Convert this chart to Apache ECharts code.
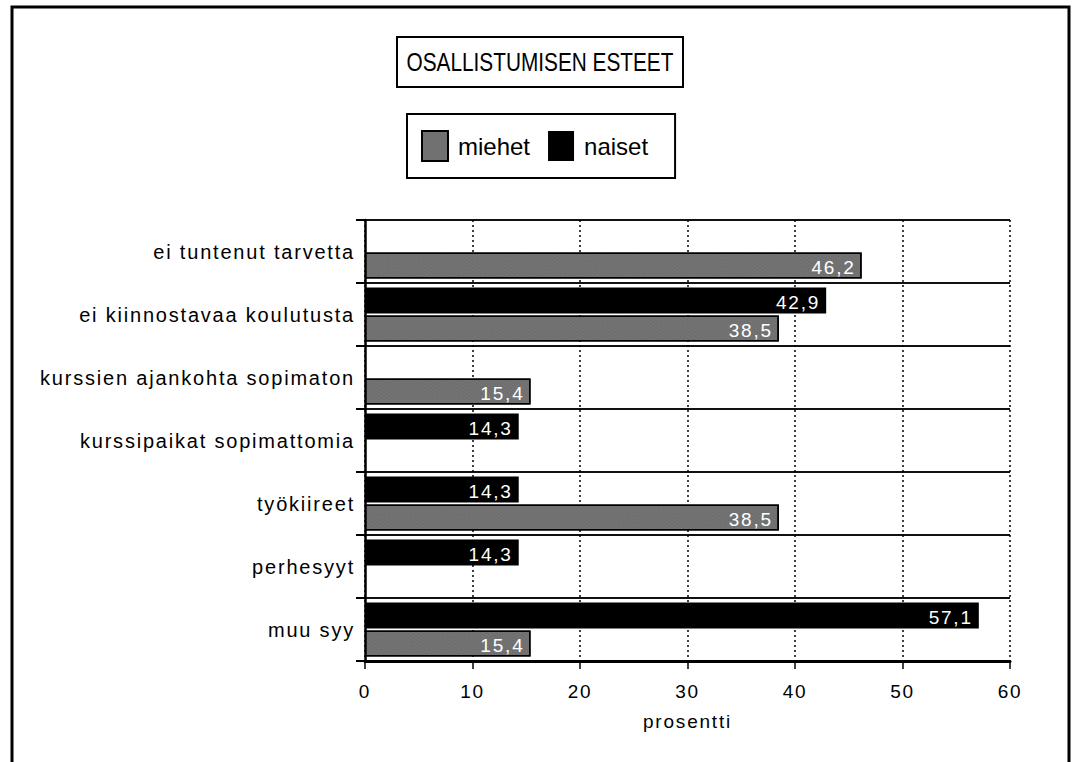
<!DOCTYPE html>
<html>
<head>
<meta charset="utf-8">
<script src="https://cdn.jsdelivr.net/npm/echarts@6/dist/echarts.min.js"></script>
<style>
  html, body { margin: 0; padding: 0; background: #fff; }
  #chart { width: 1073px; height: 762px; }
  #chart text[style*="19px"], #chart text[style*="20px"] { letter-spacing: 1.8px; }
</style>
</head>
<body>
<div id="chart"></div>
<script>
const categories = ['ei tuntenut tarvetta', 'ei kiinnostavaa koulutusta', 'kurssien ajankohta sopimaton', 'kurssipaikat sopimattomia', 'työkiireet', 'perhesyyt', 'muu syy'];
const miehet = [46.2, 38.5, 15.4, null, 38.5, null, 15.4];
const naiset = [null, 42.9, null, 14.3, 14.3, 14.3, 57.1];
const xTicks = [0, 10, 20, 30, 40, 50, 60];
const titleText = 'OSALLISTUMISEN ESTEET';
const xName = 'prosentti';

const chart = echarts.init(document.getElementById('chart'), null, { renderer: 'svg' });
const fmt = p => (p.value == null ? '' : p.value.toFixed(1).replace('.', ','));
const grayDecal = { symbol: 'rect', symbolSize: 0.7, color: 'rgba(170,170,170,0.6)', dashArrayX: [1, 1], dashArrayY: [1, 2], rotation: 0.6 };

chart.setOption({
  animation: false,
  backgroundColor: '#fff',
  legend: {
    data: ['miehet', 'naiset'],
    left: 407, top: 114,
    borderColor: '#000', borderWidth: 2,
    padding: [16, 27, 16, 14],
    itemWidth: 26, itemHeight: 30, itemGap: 18,
    icon: 'rect',
    textStyle: { fontFamily: 'Arial', fontSize: 24, color: '#000', padding: [0, 0, 0, 5] }
  },
  graphic: [
    { type: 'rect', shape: { x: 12, y: 7, width: 1057, height: 800 },
      style: { fill: 'none', stroke: '#000', lineWidth: 3 }, silent: true },
    { type: 'rect', shape: { x: 397, y: 37, width: 286, height: 50 },
      style: { fill: '#fff', stroke: '#000', lineWidth: 2 }, silent: true },
    { type: 'group', x: 540, y: 62, scaleX: 0.8, scaleY: 1, silent: true,
      children: [{ type: 'text', x: 0, y: 0,
        style: { text: titleText, fontFamily: 'Arial', fontSize: 26, fill: '#000', align: 'center', verticalAlign: 'middle' } }] }
  ],
  grid: { left: 365, right: 63, top: 220, bottom: 101, containLabel: false },
  xAxis: {
    type: 'value', min: 0, max: 60, interval: 10,
    name: xName, nameLocation: 'middle', nameGap: 51,
    nameTextStyle: { fontFamily: 'Arial', fontSize: 19, color: '#000' },
    axisLine: { show: true, lineStyle: { color: '#000', width: 3 } },
    axisTick: { show: true, length: 8, lineStyle: { color: '#000', width: 1.5 } },
    axisLabel: { margin: 21, fontFamily: 'Arial', fontSize: 19, color: '#000',
      formatter: v => (xTicks.indexOf(v) >= 0 ? String(v) : '') },
    splitLine: { show: true, lineStyle: { color: '#000', width: 1.5, type: [2, 3] } }
  },
  yAxis: {
    type: 'category', data: categories, inverse: true,
    axisLine: { show: true, lineStyle: { color: '#000', width: 2.5 } },
    axisTick: { show: true, length: 9, lineStyle: { color: '#000', width: 2 } },
    axisLabel: { margin: 10, fontFamily: 'Arial', fontSize: 20, color: '#000' },
    splitLine: { show: true, lineStyle: { color: '#111', width: 2 } }
  },
  series: [
    {
      name: 'naiset', type: 'bar', data: naiset, barWidth: 26, barGap: '8%',
      itemStyle: { color: '#000' },
      label: { show: true, position: 'insideRight', distance: 6, offset: [0, 2], color: '#fff',
        fontFamily: 'Arial', fontSize: 19, formatter: fmt }
    },
    {
      name: 'miehet', type: 'bar', data: miehet, barWidth: 26, barGap: '8%',
      itemStyle: { color: '#6f6f6f', borderColor: '#000', borderWidth: 1.5, decal: grayDecal },
      label: { show: true, position: 'insideRight', distance: 6, offset: [0, 2], color: '#fff',
        fontFamily: 'Arial', fontSize: 19, formatter: fmt }
    }
  ]
});
</script>
</body>
</html>
